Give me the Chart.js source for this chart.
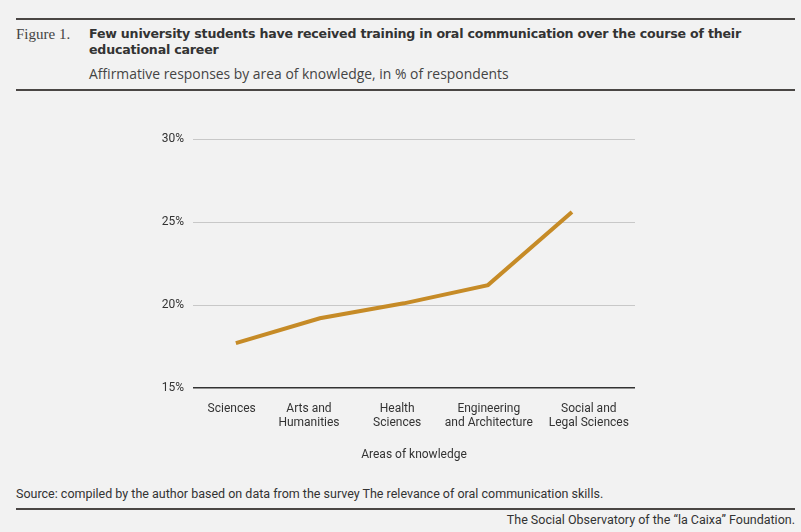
<!DOCTYPE html>
<html>
<head>
<meta charset="utf-8">
<script src="https://cdn.jsdelivr.net/npm/chart.js@4.4.1/dist/chart.umd.min.js"></script>
<style>
  html, body { margin: 0; padding: 0; background: #f2f2f2; }
  body { width: 801px; height: 532px; position: relative; overflow: hidden; font-family: Roboto, "Open Sans", sans-serif; color: #333; }
  .rule { position: absolute; left: 16px; right: 6px; height: 2px; background: #4a4644; }
  .fig { position: absolute; left: 16px; top: 26px; font-family: "Liberation Serif", "DejaVu Serif", serif; font-size: 15px; color: #444; }
  .title { position: absolute; left: 89px; top: 26px; width: 680px; font-family: "DejaVu Sans", sans-serif; font-weight: bold; font-size: 12.6px; letter-spacing: -0.2px; line-height: 16px; color: #333; }
  .sub { position: absolute; left: 89px; top: 64px; font-family: "Open Sans", sans-serif; font-size: 13.9px; color: #444; }
  .src { position: absolute; left: 16px; top: 486px; font-size: 12.5px; color: #333; }
  .foot { position: absolute; right: 6px; top: 512px; font-size: 12.5px; color: #333; }
  #wrap { position: absolute; left: 0; top: 100px; width: 801px; height: 380px; }
</style>
</head>
<body>
<div class="rule" style="top:18px"></div>
<div class="fig">Figure 1.</div>
<div class="title">Few university students have received training in oral communication over the course of their educational career</div>
<div class="sub">Affirmative responses by area of knowledge, in % of respondents</div>
<div class="rule" style="top:89px"></div>
<div id="wrap"><canvas id="myChart"></canvas></div>
<div class="src">Source: compiled by the author based on data from the survey The relevance of oral communication skills.</div>
<div class="rule" style="top:508px"></div>
<div class="foot">The Social Observatory of the “la Caixa” Foundation.</div>

<script>
// data
const areas = [
  ["Sciences"],
  ["Arts and", "Humanities"],
  ["Health", "Sciences"],
  ["Engineering", "and Architecture"],
  ["Social and", "Legal Sciences"],
];
const affirmative = [17.7, 19.2, 20.1, 21.2, 25.6];
const yTicks = [15, 20, 25, 30];

// points as x/y so the x scale can be a plain linear one
const points = affirmative.map((v, i) => ({ x: i, y: v }));

const config = {
  type: "line",
  data: {
    datasets: [
      {
        data: points,
        borderColor: "#c68b27",
        borderWidth: 4,
        pointRadius: 0,
        tension: 0,
      },
    ],
  },
  options: {
    responsive: true,
    maintainAspectRatio: false,
    animation: false,
    layout: { padding: { top: 39, right: 166, bottom: 0, left: 0 } },
    plugins: { legend: { display: false }, tooltip: { enabled: false } },
    scales: {
      x: {
        type: "linear",
        min: -0.51,
        max: 4.75,
        afterBuildTicks: (axis) => {
          // labels in the original sit a little off the points
          const at = [-0.05, 0.87, 1.92, 3.01, 4.2];
          axis.ticks = at.map((v) => ({ value: v }));
        },
        afterFit: (axis) => {
          axis.height = 92;
        },
        grid: { display: false },
        border: { display: false },
        ticks: {
          color: "#333",
          font: { family: "Roboto", size: 12, lineHeight: 1.15 },
          padding: 6,
          maxRotation: 0,
          autoSkip: false,
          callback: (v, i) => areas[i],
        },
        title: {
          display: true,
          text: "Areas of knowledge",
          color: "#333",
          font: { family: "Roboto", size: 12 },
          padding: { bottom: 18 },
        },
      },
      y: {
        min: 15,
        max: 30,
        afterBuildTicks: (axis) => {
          axis.ticks = yTicks.map((v) => ({ value: v }));
        },
        afterFit: (axis) => {
          axis.width = 193;
        },
        grid: {
          drawTicks: false,
          color: (ctx) => (ctx.tick && ctx.tick.value === 15 ? "#333" : "#c8c8c8"),
          lineWidth: (ctx) => (ctx.tick && ctx.tick.value === 15 ? 1.5 : 1),
        },
        border: { display: false },
        ticks: {
          color: "#333",
          font: { family: "Roboto", size: 12 },
          padding: 9,
          callback: (v) => v + "%",
        },
      },
    },
  },
};

const myChart = new Chart(document.getElementById("myChart"), config);
</script>
</body>
</html>
